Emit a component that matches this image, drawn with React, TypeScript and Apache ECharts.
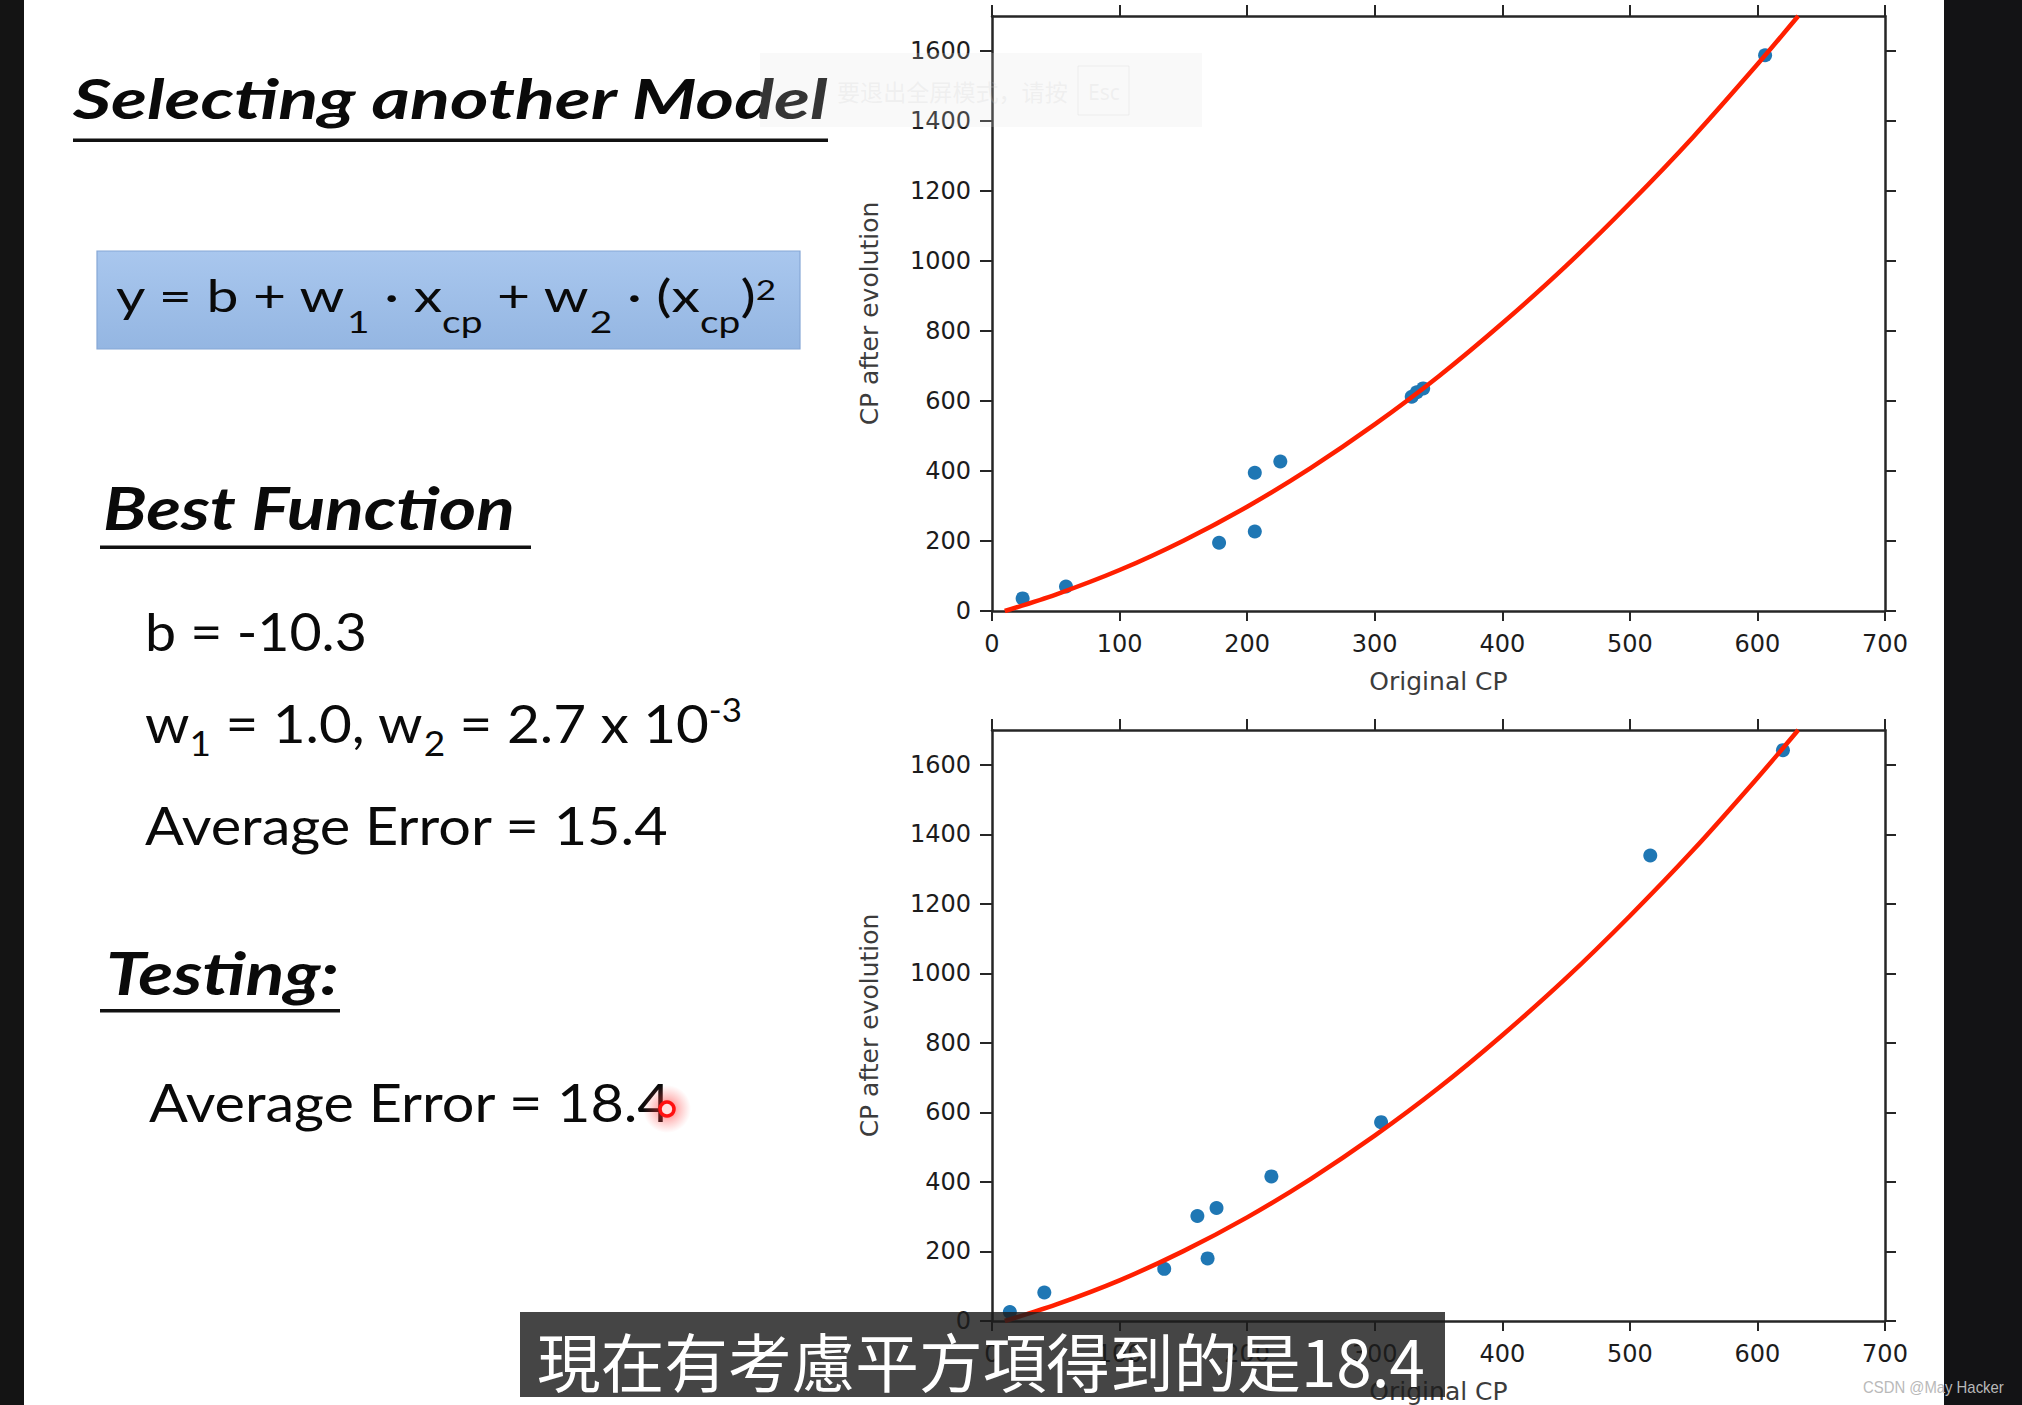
import React, { useEffect, useRef } from 'react';
import * as echarts from 'echarts';

// ---- data ----
const xTicks = [0, 100, 200, 300, 400, 500, 600, 700];
const yTicks = [0, 200, 400, 600, 800, 1000, 1200, 1400, 1600];

const trainCP = [24, 58, 178, 206, 206, 226, 329, 333, 338, 606];
const trainEvolved = [36, 70, 195, 227, 395, 427, 612, 625, 636, 1588];

const testCP = [14, 41, 135, 161, 169, 176, 219, 305, 516, 620];
const testEvolved = [26, 82, 150, 302, 180, 325, 416, 572, 1339, 1642];

const curveCP = [10, 50, 100, 150, 200, 250, 300, 350, 400, 450, 500, 550, 600, 632];
const curveEvolved = [0, 47, 117, 201, 298, 409, 533, 670, 822, 986, 1165, 1356, 1562, 1700];

const titleText = 'Selecting another Model';
const bestText = 'Best Function';
const bText = 'b = -10.3';
const trainErrText = 'Average Error = 15.4';
const testingText = 'Testing:';
const testErrText = 'Average Error = 18.4';
const subtitleText = '現在有考慮平方項得到的是18.4';
const overlayText = '要退出全屏模式，请按';
const watermarkText = 'CSDN @May Hacker';

// ---- helpers ----
const cvs = typeof document !== 'undefined' ? document.createElement('canvas') : null;
const ctx = cvs ? cvs.getContext('2d') : null;
function measure(t: string, font: string) {
  if (!ctx) return t.length * 10;
  ctx.font = font;
  return ctx.measureText(t).width;
}

const K_LATO = 0.36;

type Part = { t: string; s: number; dy?: number; style?: string; weight?: string };

function textLine(parts: Part[], x: number, baseline: number, targetW: number, family = 'Lato', color = '#0a0a0a', z = 10, k = K_LATO) {
  let cx = 0;
  const children: any[] = [];
  for (const p of parts) {
    const font = `${p.style || 'normal'} ${p.weight || 'normal'} ${p.s}px ${family}`;
    const w = measure(p.t, font);
    children.push({
      type: 'text',
      x: cx,
      y: (p.dy || 0) - k * p.s,
      z,
      style: {
        text: p.t,
        font,
        fill: color,
        align: 'left',
        verticalAlign: 'middle',
        textAlign: 'left',
        textVerticalAlign: 'middle',
      },
    });
    cx += w;
  }
  return { type: 'group', x, y: baseline, scaleX: targetW / cx, z, children };
}

function buildOption() {
  const spine = { color: '#262626', width: 2.5 };
  const tick = { show: true, length: 11, lineStyle: { color: '#262626', width: 2 } };
  const fmt = (v: number) => String(v);
  const tickLabel = { fontFamily: 'DejaVu Sans', fontSize: 24, color: '#1c1c1c', formatter: fmt };
  const nameStyle = { fontFamily: 'DejaVu Sans', fontSize: 25, color: '#3c3c3c' };

  const grids = [
    { left: 992, top: 16, width: 893, height: 595 },
    { left: 992, top: 730, width: 893, height: 595 },
  ];

  const xAxis: any[] = [];
  const yAxis: any[] = [];
  grids.forEach((_, gi) => {
    xAxis.push({
      type: 'value', gridIndex: gi, position: 'bottom', min: 0, max: 700, interval: 100,
      axisLine: { show: true, onZero: false, lineStyle: spine },
      axisTick: { ...tick, length: 10, customValues: xTicks },
      axisLabel: { ...tickLabel, margin: 21, customValues: xTicks },
      splitLine: { show: false },
      name: 'Original CP', nameLocation: 'middle', nameGap: 58, nameTextStyle: nameStyle,
    });
    xAxis.push({
      type: 'value', gridIndex: gi, position: 'top', min: 0, max: 700, interval: 100,
      axisLine: { show: true, onZero: false, lineStyle: spine },
      axisTick: { ...tick, customValues: xTicks }, axisLabel: { show: false }, splitLine: { show: false },
    });
    yAxis.push({
      type: 'value', gridIndex: gi, position: 'left', min: 0, max: 1700,
      axisLine: { show: true, onZero: false, lineStyle: spine },
      axisTick: { ...tick, length: 12, customValues: yTicks },
      axisLabel: { ...tickLabel, margin: 21, customValues: yTicks },
      splitLine: { show: false },
      name: 'CP after evolution', nameLocation: 'middle', nameGap: 110, nameRotate: 90, nameTextStyle: nameStyle,
    });
    yAxis.push({
      type: 'value', gridIndex: gi, position: 'right', min: 0, max: 1700,
      axisLine: { show: true, onZero: false, lineStyle: spine },
      axisTick: { ...tick, customValues: yTicks },
      axisLabel: { show: false }, splitLine: { show: false },
    });
  });

  const pairs = (xs: number[], ys: number[]) => xs.map((v, i) => [v, ys[i]]);
  const scatter = (xi: number, data: number[][]) => ({
    type: 'scatter', xAxisIndex: xi, yAxisIndex: xi, data, symbolSize: 14, z: 2,
    itemStyle: { color: '#1f77b4', opacity: 1 },
  });
  const line = (xi: number) => ({
    type: 'line', xAxisIndex: xi, yAxisIndex: xi, data: pairs(curveCP, curveEvolved),
    showSymbol: false, smooth: 0.3, z: 3, clip: true,
    lineStyle: { color: '#ff1f00', width: 4.5 },
  });

  const graphic: any[] = [
    // dark side strips
    { type: 'rect', shape: { x: 0, y: 0, width: 24, height: 1405 }, style: { fill: '#141414' }, z: 200 },
    { type: 'rect', shape: { x: 1944, y: 0, width: 78, height: 1405 }, style: { fill: '#131315' }, z: 200 },

    // title
    textLine([{ t: titleText, s: 56, style: 'italic', weight: 'bold' }], 73, 117, 756),
    { type: 'rect', shape: { x: 73, y: 138.5, width: 755, height: 3.5 }, style: { fill: '#111' }, z: 10 },

    // formula box
    {
      type: 'rect', shape: { x: 97, y: 251, width: 703, height: 98 }, z: 5,
      style: {
        fill: new echarts.graphic.LinearGradient(0, 0, 0, 1, [
          { offset: 0, color: '#a9c7ee' },
          { offset: 1, color: '#94b6e2' },
        ]),
        stroke: '#86a7d6', lineWidth: 1.2,
      },
    },
    textLine([
      { t: 'y = b + w', s: 44 },
      { t: '1', s: 30, dy: 21 },
      { t: ' · x', s: 44 },
      { t: 'cp', s: 30, dy: 21 },
      { t: ' + w', s: 44 },
      { t: '2', s: 30, dy: 21 },
      { t: ' · (x', s: 44 },
      { t: 'cp', s: 30, dy: 21 },
      { t: ')', s: 44 },
      { t: '2', s: 27, dy: -12 },
    ], 116, 311, 660),

    // best function
    textLine([{ t: bestText, s: 60, style: 'italic', weight: 'bold' }], 103, 528, 412),
    { type: 'rect', shape: { x: 100, y: 545.5, width: 431, height: 3.5 }, style: { fill: '#111' }, z: 10 },

    textLine([{ t: bText, s: 52 }], 145, 649, 222),
    textLine([
      { t: 'w', s: 52 },
      { t: '1', s: 34, dy: 13 },
      { t: ' = 1.0, w', s: 52 },
      { t: '2', s: 34, dy: 13 },
      { t: ' = 2.7 x 10', s: 52 },
      { t: '-3', s: 32, dy: -21 },
    ], 145, 742, 597),
    textLine([{ t: trainErrText, s: 52 }], 145, 844, 524),

    // testing
    textLine([{ t: testingText, s: 60, style: 'italic', weight: 'bold' }], 106, 993, 233),
    { type: 'rect', shape: { x: 100, y: 1009, width: 240, height: 3.5 }, style: { fill: '#111' }, z: 10 },
    textLine([{ t: testErrText, s: 52 }], 149, 1121, 523),

    // laser pointer
    {
      type: 'circle', shape: { cx: 667, cy: 1109, r: 24 }, z: 60,
      style: {
        fill: new echarts.graphic.RadialGradient(0.5, 0.5, 0.5, [
          { offset: 0, color: 'rgba(255,30,30,0.75)' },
          { offset: 0.45, color: 'rgba(255,60,60,0.35)' },
          { offset: 1, color: 'rgba(255,90,90,0)' },
        ]),
      },
    },
    { type: 'circle', shape: { cx: 667, cy: 1109, r: 7 }, z: 61, style: { fill: '#ffe0e0', stroke: '#ff1010', lineWidth: 3.5 } },

    // faint full-screen overlay hint
    { type: 'rect', shape: { x: 760, y: 53, width: 442, height: 74 }, style: { fill: 'rgba(225,225,225,0.2)' }, z: 150 },
    textLine([{ t: overlayText, s: 23 }], 837, 100, 231, 'Noto Sans CJK SC', 'rgba(205,205,205,0.22)', 151, 0.38),
    { type: 'rect', shape: { x: 1078, y: 66, width: 51, height: 49 }, style: { fill: 'none', stroke: 'rgba(210,210,210,0.25)', lineWidth: 1 }, z: 151 },
    textLine([{ t: 'Esc', s: 22 }], 1088, 99, 32, 'Noto Sans', 'rgba(205,205,205,0.22)', 151, 0.36),

    // subtitle bar
    { type: 'rect', shape: { x: 520, y: 1312, width: 925, height: 85 }, style: { fill: 'rgba(28,28,28,0.82)' }, z: 180 },
    textLine([{ t: subtitleText, s: 64 }], 537, 1383, 888, 'Noto Sans CJK TC', '#ffffff', 181, 0.38),

    // watermark
    textLine([{ t: watermarkText, s: 16 }], 1863, 1393, 141, 'Liberation Sans', '#b9b9b9', 210, 0.36),
  ];

  return {
    animation: false,
    backgroundColor: '#ffffff',
    grid: grids,
    xAxis,
    yAxis,
    series: [
      scatter(0, pairs(trainCP, trainEvolved)),
      line(0),
      scatter(2, pairs(testCP, testEvolved)),
      line(2),
    ],
    graphic,
  };
}

export default function App() {
  const ref = useRef<HTMLDivElement>(null);
  useEffect(() => {
    document.body.style.margin = '0';
    const chart = echarts.init(ref.current!, null, { renderer: 'svg' });
    chart.setOption(buildOption() as any);
    return () => chart.dispose();
  }, []);
  return (
    <div
      ref={ref}
      style={{ position: 'absolute', left: 0, top: 0, width: 2022, height: 1405, background: '#ffffff' }}
    />
  );
}
